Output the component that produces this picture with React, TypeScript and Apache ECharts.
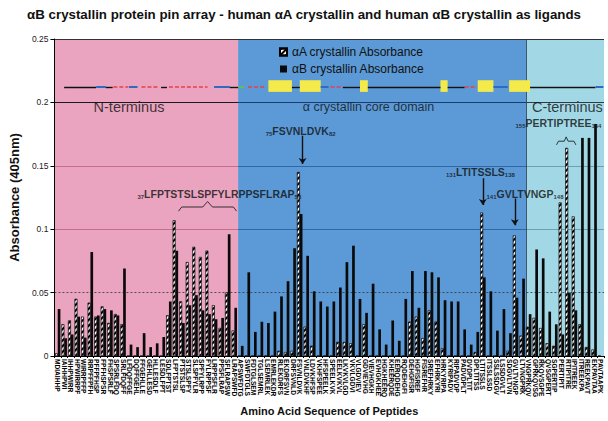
import React, { useEffect, useRef } from "react";
import * as echarts from "echarts";

const peptides: string[] = [
  "MDIAIHHP","IAIHHPWI","IHHPWIRR","HPWIRRPF","WIRRPFFP","RRPFFPFH","PFFPFHSP","FPFHSPSR","FHSPSRLF","SPSRLFDQ",
  "SRLFDQFF","LFDQFFGE","DQFFGEHL","FFGEHLLE","GEHLLESD","HLLESDLF","LESDLFPT","SDLFPTST","LFPTSTSL","PTSTSLSP",
  "STSLSPFY","SLSPFYLR","SPFYLRPP","FYLRPPSF","LRPPSFLR","PPSFLRAP","SFLRAPSW","LRAPSWFD","APSWFDTG","SWFDTGLS",
  "FDTGLSEM","TGLSEMRL","LSEMRLEK","EMRLEKDR","RLEKDRFS","EKDRFSVN","DRFSVNLD","FSVNLDVK","VNLDVKHF","LDVKHFSP",
  "VKHFSPEE","HFSPEELK","SPEELKVK","EELKVKVL","LKVKVLGD","VKVLGDVI","VLGDVIEV","GDVIEVHG","VIEVHGKH","EVHGKHEE",
  "HGKHEERQ","KHEERQDE","EERQDEHG","RQDEHGFI","DEHGFISR","HGFISREF","FISREFHR","SREFHRKY","EFHRKYRI","HRKYRIPA",
  "KYRIPADV","RIPADVDP","PADVDPLT","DVDPLTIT","DPLTITSS","LTITSSLS","ITSSLSSD","SSLSSDGV","LSSDGVLT","SDGVLTVN",
  "GVLTVNGP","LTVNGPRK","VNGPRKQV","GPRKQVSG","RKQVSGPE","QVSGPERT","SGPERTIP","PERTIPIT","RTIPITRE","IPITREEK",
  "ITREEKPA","REEKPAVT","EKPAVTAA","PAVTAAPK",
];

// αA crystallin (hatched)
const alphaA: number[] = [
  0.002, 0.025, 0.028, 0.045, 0.031, 0.042, 0.031, 0.039, 0.026, 0.033,
  0.025, 0, 0, 0, 0, 0, 0, 0.032, 0.107, 0.043,
  0.074, 0.086, 0.078, 0.083, 0.040, 0.022, 0.050, 0.020, 0, 0,
  0, 0, 0, 0, 0.004, 0.003, 0.004, 0.145, 0.023, 0.008,
  0, 0, 0, 0.011, 0.011, 0.010, 0, 0.025, 0, 0,
  0, 0, 0, 0, 0.027, 0.031, 0.014, 0.036, 0.027, 0.006,
  0, 0, 0, 0, 0.003, 0.113, 0, 0, 0, 0.004,
  0.095, 0.016, 0.023, 0.030, 0.022, 0.010, 0.008, 0.121, 0.164, 0.110,
  0.025, 0.007, 0.005, 0,
];

// αB crystallin (solid black)
const alphaB: number[] = [
  0.037, 0.014, 0.017, 0.031, 0.0145, 0.082, 0.032, 0.037, 0.036, 0.032,
  0.069, 0.009, 0.007, 0.018, 0.007, 0.010, 0.015, 0.043, 0.083, 0.026,
  0.040, 0.048, 0.036, 0.033, 0.029, 0.030, 0.096, 0.038, 0.008, 0.066,
  0.019, 0.027, 0.026, 0.035, 0.047, 0.059, 0.085, 0.112, 0.079, 0.051,
  0.043, 0.039, 0.043, 0.054, 0.074, 0.087, 0.045, 0.034, 0.057, 0.021,
  0.009, 0.028, 0.012, 0.045, 0.067, 0.038, 0.067, 0.066, 0.062, 0.044,
  0.043, 0.043, 0.021, 0.009, 0.019, 0.062, 0.051, 0.020, 0.037, 0.018,
  0.046, 0.061, 0.033, 0.084, 0.077, 0.035, 0.025, 0.017, 0.050, 0.036,
  0.172, 0.172, 0.183, 0,
];

const yTicks: number[] = [0, 0.05, 0.1, 0.15, 0.2, 0.25];
const yTickLabels: string[] = ["0", "0.05", "0.1", "0.15", "0.2", "0.25"];

// domains, in peptide (category) units
const domainNames: string[] = ["N-terminus", "α crystallin core domain", "C-terminus"];
const domainStart: number[] = [0, 28.07, 72.15];
const domainEnd: number[] = [28.07, 72.15, 84];
const domainLabelX: number[] = [11.4, 48.0, 78.4];
const domainLabelY = 0.1963;

// secondary-structure schematic: [from, to, kind] in peptide units
const schematic: [number, number, string][] = [
  [1.48, 6.37, "coil"], [6.37, 7.85, "loop"], [7.85, 8.9, "coil"], [9.0, 11.3, "helix"],
  [11.4, 12.7, "loop"], [13.3, 16.0, "helix"], [16.3, 17.2, "coil"], [17.5, 23.4, "helix"],
  [24.4, 26.8, "loop"], [26.8, 28.1, "coil"], [28.1, 29.0, "turn"], [29.6, 32.3, "helix"],
  [32.7, 36.3, "strand"], [36.3, 37.5, "coil"], [37.5, 40.7, "strand"], [40.7, 41.9, "loop"],
  [42.2, 44.1, "helix"], [44.1, 46.7, "coil"], [46.7, 47.9, "strand"], [47.9, 59.0, "coil"],
  [59.0, 60.1, "strand"], [60.1, 62.7, "coil"], [62.7, 64.6, "helix"], [64.7, 67.1, "strand"],
  [67.1, 69.3, "loop"], [69.5, 72.7, "strand"], [72.7, 82.7, "coil"], [82.7, 83.9, "loop"],
];
const schematicY = 0.212;

// peptide annotations
const notes = [
  { from: "75", seq: "FSVNLDVK", to: "82", x: 37.63, y: 0.1774 },
  { from: "37", seq: "LFPTSTSLSPFYLRPPSFLRAP", to: "58", x: 25.2, y: 0.1281 },
  { from: "131", seq: "LTITSSLS", to: "138", x: 65.11, y: 0.1448 },
  { from: "141", seq: "GVLTVNGP", to: "148", x: 71.93, y: 0.1281 },
  { from: "155", seq: "PERTIPTREE", to: "164", x: 77.04, y: 0.1834 },
];
const arrows: [number, number, number][] = [
  [37.93, 0.1736, 0.1514],
  [65.48, 0.1402, 0.119],
  [70.37, 0.1243, 0.1031],
];
const braces: [number, number][][] = [
  [[18.96, 0.1142], [19.45, 0.1175], [22.67, 0.1175], [23.41, 0.1218], [24.15, 0.1175], [27.36, 0.1175], [27.85, 0.1142]],
  [[76.74, 0.1665], [77.04, 0.1694], [77.93, 0.1694], [78.22, 0.1728], [78.52, 0.1694], [79.41, 0.1694], [79.7, 0.1665]],
];

const FONT = '"Liberation Sans", Arial, sans-serif';
const regionColors = ["#eaa4bf", "#5b9ad6", "#a2d8e6"];
const thinLineColors = ["#c2678a", "#2f609f", "#6a98a6"];
const boldLineColors = ["#1a1a1a", "#1b3c6e", "#2e3d44"];

function buildOption() {
  const gridLines: any[] = [];
  [0.1, 0.15].forEach((y) => {
    domainStart.forEach((s, i) => {
      gridLines.push({ coords: [[s, y], [domainEnd[i], y]], lineStyle: { color: thinLineColors[i], width: 0.9, opacity: 1 } });
    });
  });
  domainStart.forEach((s, i) => {
    gridLines.push({ coords: [[s, 0.2], [domainEnd[i], 0.2]], lineStyle: { color: boldLineColors[i], width: 1.1, opacity: 1 } });
  });
  gridLines.push({ coords: [[0, 0.05], [84, 0.05]], lineStyle: { color: "#333", width: 0.8, type: [2, 2], opacity: 1 } });
  gridLines.push({ coords: [[0, 0.25], [84, 0.25]], lineStyle: { color: "#333", width: 1, opacity: 1 } });
  gridLines.push({ coords: [[domainStart[2], 0], [domainStart[2], 0.25]], lineStyle: { color: "#22384a", width: 0.8, opacity: 1 } });

  const kindStyle: Record<string, any> = {
    coil: { color: "#111", width: 1.4 },
    loop: { color: "#2d6cc0", width: 2 },
    turn: { color: "#5cbf5c", width: 2 },
    helix: { color: "#e8404c", width: 1.6, type: [4, 2] },
  };
  const schematicLines = schematic
    .filter((s) => s[2] !== "strand")
    .map((s) => ({ coords: [[s[0], schematicY], [s[1], schematicY]], lineStyle: { ...kindStyle[s[2]], opacity: 1 } }));
  const strands = schematic
    .filter((s) => s[2] === "strand")
    .map((s) => [{ xAxis: s[0], yAxis: schematicY - 0.0037 }, { xAxis: s[1], yAxis: schematicY + 0.0055 }]);

  const hatch = {
    symbol: "rect",
    symbolSize: 1,
    color: "#000",
    dashArrayX: [1, 0],
    dashArrayY: [1.2, 1.6],
    rotation: -Math.PI / 4,
  };

  return {
    animation: false,
    backgroundColor: "#ffffff",
    title: {
      text: "αB crystallin protein pin array - human αA crystallin and human αB crystallin as ligands",
      left: "center",
      top: 3,
      textStyle: { fontFamily: FONT, fontWeight: "bold", fontSize: 13.3, color: "#111" },
    },
    legend: {
      orient: "vertical",
      left: 274,
      top: 41,
      itemWidth: 7,
      itemHeight: 7,
      itemGap: 5,
      icon: "rect",
      textStyle: { fontFamily: FONT, fontSize: 12, color: "#111" },
      data: ["αA crystallin Absorbance", "αB crystallin Absorbance"],
    },
    grid: { left: 37, right: 4, top: 39, bottom: 52 },
    xAxis: [
      {
        type: "category",
        data: peptides,
        z: 5,
        axisLine: { lineStyle: { color: "#000", width: 1 } },
        axisTick: { show: true, length: 2, lineStyle: { color: "#000" } },
        axisLabel: {
          interval: 0,
          rotate: -90,
          margin: 3,
          fontSize: 6.6,
          fontWeight: "bold",
          fontFamily: FONT,
          color: "#000",
        },
        name: "Amino Acid Sequence of Peptides",
        nameLocation: "middle",
        nameGap: 44,
        nameTextStyle: { fontFamily: FONT, fontWeight: "bold", fontSize: 11, color: "#111" },
      },
      { type: "value", min: 0, max: 84, show: false },
    ],
    yAxis: {
      type: "value",
      min: 0,
      max: 0.25,
      interval: 0.05,
      z: 5,
      splitLine: { show: false },
      axisLine: { show: true, lineStyle: { color: "#000", width: 1 } },
      axisTick: { show: true, length: 4, lineStyle: { color: "#000" } },
      axisLabel: {
        fontSize: 8.5,
        fontFamily: FONT,
        color: "#222",
        margin: 6,
        formatter: (v: number) => {
          const i = yTicks.findIndex((t) => Math.abs(t - v) < 1e-9);
          return i >= 0 ? yTickLabels[i] : "";
        },
      },
      name: "Absorbance (405nm)",
      nameLocation: "middle",
      nameGap: 24,
      nameTextStyle: { fontFamily: FONT, fontWeight: "bold", fontSize: 13, color: "#111" },
    },
    series: [
      {
        type: "line",
        name: "domains",
        xAxisIndex: 1,
        yAxisIndex: 0,
        data: [],
        silent: true,
        markArea: {
          silent: true,
          label: { show: false },
          data: domainStart.map((s, i) => [
            { xAxis: s, yAxis: 0, itemStyle: { color: regionColors[i], opacity: 1 } },
            { xAxis: domainEnd[i], yAxis: 0.25 },
          ]),
        },
      },
      {
        type: "lines",
        name: "grid",
        coordinateSystem: "cartesian2d",
        xAxisIndex: 1,
        yAxisIndex: 0,
        z: 1,
        silent: true,
        data: gridLines,
      },
      {
        type: "bar",
        name: "αA crystallin Absorbance",
        data: alphaA,
        barGap: "0%",
        barCategoryGap: "18%",
        z: 3,
        itemStyle: { color: "#ffffff", borderColor: "#000", borderWidth: 0.4, decal: hatch },
      },
      {
        type: "bar",
        name: "αB crystallin Absorbance",
        data: alphaB,
        barGap: "0%",
        barCategoryGap: "18%",
        z: 3,
        itemStyle: { color: "#0a0a0a" },
      },
      {
        type: "lines",
        name: "schematic",
        coordinateSystem: "cartesian2d",
        xAxisIndex: 1,
        yAxisIndex: 0,
        z: 4,
        silent: true,
        data: schematicLines,
        markArea: {
          silent: true,
          z: 4,
          label: { show: false },
          itemStyle: { color: "#f4ea4a", opacity: 1 },
          data: strands,
        },
      },
      {
        type: "lines",
        name: "arrows",
        coordinateSystem: "cartesian2d",
        xAxisIndex: 1,
        yAxisIndex: 0,
        z: 6,
        silent: true,
        symbol: ["none", "arrow"],
        symbolSize: 6,
        lineStyle: { color: "#111", width: 1.4, opacity: 1 },
        data: arrows.map((a) => ({ coords: [[a[0], a[1]], [a[0], a[2]]] })),
      },
      {
        type: "lines",
        name: "braces",
        coordinateSystem: "cartesian2d",
        polyline: true,
        xAxisIndex: 1,
        yAxisIndex: 0,
        z: 6,
        silent: true,
        lineStyle: { color: "#222", width: 0.9, opacity: 1 },
        data: braces.map((b) => ({ coords: b })),
      },
      {
        type: "scatter",
        name: "notes",
        xAxisIndex: 1,
        yAxisIndex: 0,
        z: 7,
        silent: true,
        symbolSize: 1,
        itemStyle: { color: "rgba(0,0,0,0)" },
        label: {
          show: true,
          position: "inside",
          color: "#111",
          rich: {
            s: { fontSize: 6, fontWeight: "bold", fontFamily: FONT, color: "#111", verticalAlign: "bottom", lineHeight: 12 },
            m: { fontSize: 10.5, fontWeight: "bold", fontFamily: FONT, color: "#111", lineHeight: 12 },
          },
        },
        data: notes.map((n) => ({
          value: [n.x, n.y],
          label: { formatter: `{s|${n.from}}{m|${n.seq}}{s|${n.to}}` },
        })),
      },
      {
        type: "scatter",
        name: "domainLabels",
        xAxisIndex: 1,
        yAxisIndex: 0,
        z: 7,
        silent: true,
        symbolSize: 1,
        itemStyle: { color: "rgba(0,0,0,0)" },
        label: { show: true, position: "inside", color: "#111", fontFamily: FONT },
        data: domainNames.map((n, i) => ({
          value: [domainLabelX[i], domainLabelY],
          label: { formatter: n, fontSize: i === 1 ? 12.5 : 14.5 },
        })),
      },
    ],
  };
}

export default function App() {
  const ref = useRef<HTMLDivElement>(null);
  useEffect(() => {
    document.body.style.margin = "0";
    const chart = echarts.init(ref.current as HTMLDivElement, null, { renderer: "svg" });
    chart.setOption(buildOption() as any);
    return () => {
      chart.dispose();
    };
  }, []);
  return <div ref={ref} style={{ width: 608, height: 421 }} />;
}
